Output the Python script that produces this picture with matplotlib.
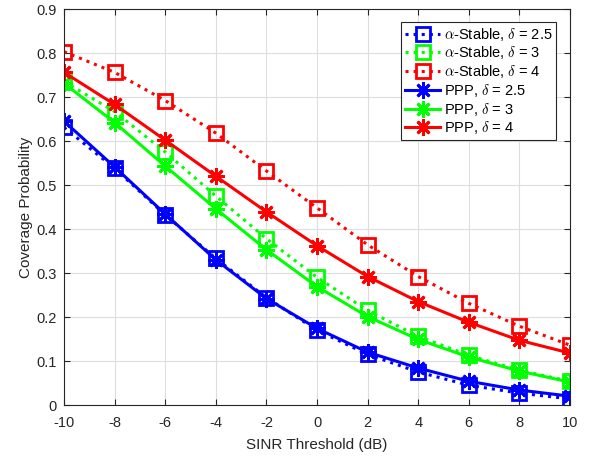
import matplotlib
matplotlib.use("Agg")
import matplotlib.pyplot as plt

plt.rcParams['font.family'] = ['Liberation Sans', 'DejaVu Sans']
plt.rcParams['mathtext.fontset'] = 'cm'
plt.rcParams['axes.unicode_minus'] = False

sinr_db = [-10, -8, -6, -4, -2, 0, 2, 4, 6, 8, 10]

stable_25 = [0.631, 0.538, 0.432, 0.333, 0.244, 0.170, 0.115, 0.075, 0.045, 0.027, 0.014]
stable_3 = [0.735, 0.667, 0.575, 0.475, 0.378, 0.290, 0.215, 0.156, 0.113, 0.079, 0.054]
stable_4 = [0.803, 0.756, 0.692, 0.618, 0.532, 0.448, 0.364, 0.292, 0.231, 0.179, 0.136]
ppp_25 = [0.645, 0.541, 0.434, 0.330, 0.242, 0.174, 0.120, 0.084, 0.054, 0.034, 0.020]
ppp_3 = [0.731, 0.642, 0.543, 0.446, 0.353, 0.269, 0.201, 0.149, 0.109, 0.077, 0.052]
ppp_4 = [0.756, 0.683, 0.602, 0.520, 0.439, 0.362, 0.292, 0.235, 0.188, 0.147, 0.118]

labels_stable = [r'$\alpha$-Stable, $\delta$ = 2.5', r'$\alpha$-Stable, $\delta$ = 3', r'$\alpha$-Stable, $\delta$ = 4']
labels_ppp = [r'PPP, $\delta$ = 2.5', r'PPP, $\delta$ = 3', r'PPP, $\delta$ = 4']
colors = ['#0000ff', '#00ff00', '#ff0000']

fig = plt.figure(figsize=(5.95, 4.61), dpi=100)
ax = fig.add_axes([64/595, 1 - 405/461, (570-64)/595, (405-9)/461])

for ys, lab, c in zip([stable_25, stable_3, stable_4], labels_stable, colors):
    ax.plot(sinr_db, ys, linestyle=':', color=c, linewidth=2.2, marker='s',
            markersize=10, markerfacecolor='none', markeredgewidth=2, label=lab)
for ys, lab, c in zip([ppp_25, ppp_3, ppp_4], labels_ppp, colors):
    ax.plot(sinr_db, ys, linestyle='-', color=c, linewidth=2.2, marker=(8, 2, 0),
            markersize=12, markeredgewidth=2, label=lab)

ax.set_xlim(-10, 10)
ax.set_ylim(0, 0.9)
ax.set_xticks(range(-10, 11, 2))
ax.set_yticks([0, 0.1, 0.2, 0.3, 0.4, 0.5, 0.6, 0.7, 0.8, 0.9])
ax.set_yticklabels(['0', '0.1', '0.2', '0.3', '0.4', '0.5', '0.6', '0.7', '0.8', '0.9'])
ax.grid(True, color='#dddddd', linewidth=0.8)
ax.set_axisbelow(True)
for s in ax.spines.values():
    s.set_color('#262626')
    s.set_linewidth(0.8)
ax.tick_params(direction='in', labelsize=10.5, colors='#262626', length=4, top=True, right=True)
ax.tick_params(axis='x', pad=8)
ax.tick_params(axis='y', pad=5)
ax.set_xlabel('SINR Threshold (dB)', fontsize=11, color='#262626', labelpad=6)
ax.set_ylabel('Coverage Probability', fontsize=11, color='#262626', labelpad=3)

leg = ax.legend(loc='upper right', bbox_to_anchor=(556/595, 1 - 22/461),
                bbox_transform=fig.transFigure, fontsize=10.5,
                frameon=True, fancybox=False, edgecolor='#262626', framealpha=1,
                handlelength=2.4, borderpad=0.25, labelspacing=0.12, handletextpad=0.25,
                borderaxespad=0.0)
leg.get_frame().set_linewidth(0.8)

fig.savefig('out.png', dpi=100)
